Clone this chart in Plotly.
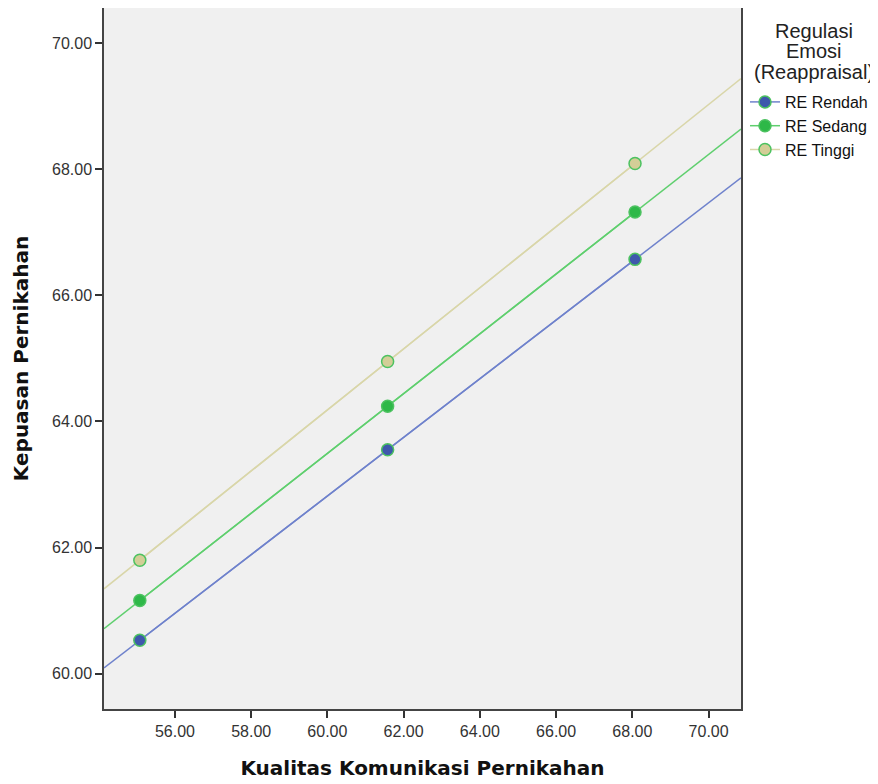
import numpy as np
import plotly.graph_objects as go

x_vals = [55.08, 61.58, 68.07]
rendah = [60.53, 63.55, 66.57]
sedang = [61.16, 64.24, 67.32]
tinggi = [61.80, 64.95, 68.09]

series_names = ["RE Rendah", "RE Sedang", "RE Tinggi"]
series_vals = [rendah, sedang, tinggi]
line_colors = ["#6f82cc", "#5fcf6e", "#d9d6a9"]
fill_colors = ["#3e58ac", "#2eb848", "#d3ce97"]
edge_color = "#4cc260"

x_range = [54.14, 70.85]
y_range = [59.44, 70.556]
x_ticks = [56, 58, 60, 62, 64, 66, 68, 70]
y_ticks = [60, 62, 64, 66, 68, 70]

legend_title_lines = ["Regulasi", "Emosi", "(Reappraisal)"]

# page body has an 8px default margin; figure sized to fit the window
W, H = 870, 776
L, R, T, B = 96, 137, 0, 75
PW, PH = W - L - R, H - T - B

fig = go.Figure()
for name, vals, lc, fc in zip(series_names, series_vals, line_colors, fill_colors):
    slope, icpt = np.polyfit(x_vals, vals, 1)
    xs = [x_range[0], *x_vals, x_range[1]]
    ys = [icpt + slope * v for v in xs]
    fig.add_trace(go.Scatter(x=xs, y=ys, mode="lines", line=dict(color=lc, width=1.5),
                             showlegend=False, hoverinfo="skip", legendgroup=name, cliponaxis=True))
    fig.add_trace(go.Scatter(x=x_vals, y=vals, mode="lines+markers", name=name,
                             line=dict(color=lc, width=1.5),
                             marker=dict(size=12, color=fc, line=dict(color=edge_color, width=1.5)),
                             legendgroup=name))

fig.update_layout(
    width=W, height=H,
    paper_bgcolor="white", plot_bgcolor="#f0f0f0",
    margin=dict(l=L, r=R, t=T, b=B, autoexpand=False),
    font=dict(family="Liberation Sans, Arial, sans-serif", size=16, color="#333333"),
    legend=dict(
        x=(737 - L) / PW, xanchor="left", y=1 - 77 / PH, yanchor="top",
        font=dict(size=16, color="#111111"),
        bgcolor="rgba(0,0,0,0)", tracegroupgap=0, itemwidth=30,
    ),
)
for i, line in enumerate(legend_title_lines):
    fig.add_annotation(text=line, xref="paper", yref="paper",
                       x=(806 - L) / PW, y=1 - (23 + 20.5 * i) / PH,
                       xanchor="center", yanchor="middle", showarrow=False,
                       font=dict(size=20, color="#222222"))

fig.update_xaxes(range=x_range, tickvals=x_ticks, ticktext=[f"{v:.2f}" for v in x_ticks],
                 ticks="outside", ticklen=7, tickwidth=1.5, tickcolor="#333",
                 showline=True, linecolor="#444", linewidth=1.5, mirror=True,
                 showgrid=False, zeroline=False, automargin=False,
                 title=dict(text="<b>Kualitas Komunikasi Pernikahan</b>",
                            font=dict(family="DejaVu Sans, sans-serif", size=20, color="#111"), standoff=22))
fig.update_yaxes(range=y_range, tickvals=y_ticks, ticktext=[f"{v:.2f}" for v in y_ticks],
                 ticks="outside", ticklen=7, tickwidth=1.5, tickcolor="#333",
                 showline=True, linecolor="#444", linewidth=1.5, mirror=True,
                 showgrid=False, zeroline=False, automargin=False,
                 title=dict(text="<b>Kepuasan Pernikahan</b>",
                            font=dict(family="DejaVu Sans, sans-serif", size=20, color="#111"), standoff=18))

fig.write_html("out.html")
